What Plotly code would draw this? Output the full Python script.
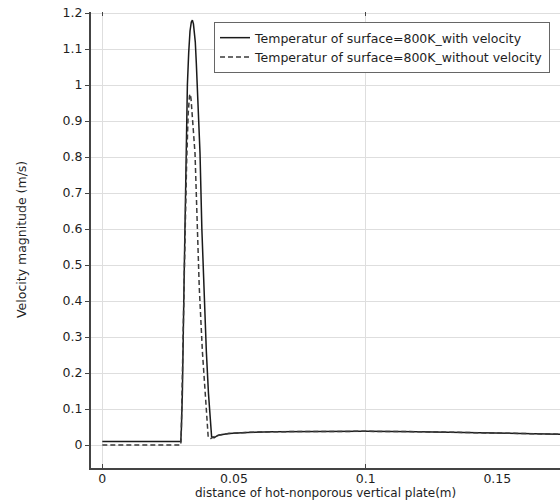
import plotly.graph_objects as go

# Data
x_with = [0.0, 0.0298, 0.0300, 0.0304, 0.0311, 0.0318, 0.0323, 0.0328, 0.0333, 0.0338, 0.0342,
          0.0346, 0.0350, 0.0353, 0.0357, 0.0360, 0.0371, 0.0378, 0.0385, 0.0395, 0.0403, 0.0409,
          0.0415, 0.0420, 0.0425, 0.0435, 0.0445, 0.048, 0.055, 0.065, 0.08, 0.10, 0.12, 0.14,
          0.16, 0.174]
y_with = [0.01, 0.01, 0.04, 0.144, 0.48, 0.81, 1.0, 1.09, 1.15, 1.175, 1.18,
          1.17, 1.145, 1.12, 1.06, 1.0, 0.81, 0.6, 0.44, 0.26, 0.144, 0.07,
          0.023, 0.021, 0.02, 0.025, 0.028, 0.032, 0.035, 0.037, 0.038, 0.038, 0.037, 0.035,
          0.033, 0.030]

x_without = [0.0, 0.0298, 0.0300, 0.0305, 0.0312, 0.0320, 0.0326, 0.0331, 0.0334, 0.0337, 0.0340,
             0.0346, 0.0352, 0.0360, 0.0368, 0.0380, 0.0390, 0.0397, 0.0402, 0.0407, 0.0412,
             0.0420, 0.0430, 0.0445, 0.048, 0.055, 0.065, 0.08, 0.10, 0.12, 0.14, 0.16, 0.174]
y_without = [0.0, 0.0, 0.04, 0.2, 0.5, 0.78, 0.92, 0.97, 0.975, 0.96, 0.92,
             0.87, 0.81, 0.62, 0.44, 0.26, 0.144, 0.07, 0.023, 0.018, 0.018,
             0.022, 0.025, 0.028, 0.032, 0.035, 0.037, 0.038, 0.038, 0.037, 0.035, 0.033, 0.030]

name_with = "Temperatur of surface=800K_with velocity"
name_without = "Temperatur of surface=800K_without velocity"
x_title = "distance of hot-nonporous vertical plate(m)"
y_title = "Velocity magnitude (m/s)"

x_tickvals = [0, 0.05, 0.1, 0.15]
x_ticktext = ["0", "0.05", "0.1", "0.15"]
y_tickvals = [0, 0.1, 0.2, 0.3, 0.4, 0.5, 0.6, 0.7, 0.8, 0.9, 1.0, 1.1, 1.2]
y_ticktext = ["0", "0.1", "0.2", "0.3", "0.4", "0.5", "0.6", "0.7", "0.8", "0.9", "1", "1.1", "1.2"]

FONT = "DejaVu Sans"
FS = 12.5
TXT = "#1e1e1e"

fig = go.Figure()
fig.add_trace(go.Scatter(x=x_with, y=y_with, mode="lines", name=name_with,
                         line=dict(color="#1a1a1a", width=1.5)))
fig.add_trace(go.Scatter(x=x_without, y=y_without, mode="lines", name=name_without,
                         line=dict(color="#3a3a3a", width=1.5, dash="5px,3px")))
# invisible trace so the top (tick-only) axis renders
fig.add_trace(go.Scatter(x=[0], y=[0], xaxis="x2", mode="markers",
                         marker=dict(opacity=0), showlegend=False, hoverinfo="skip"))

fig.update_layout(
    width=560, height=500,
    margin=dict(l=91, r=0, t=12, b=32),
    plot_bgcolor="white", paper_bgcolor="white",
    font=dict(family=FONT, size=FS, color=TXT),
    showlegend=True,
    legend=dict(x=0.9787, y=0.978, xanchor="right", yanchor="top",
                bgcolor="white", bordercolor="#666", borderwidth=1,
                font=dict(family=FONT, size=FS, color=TXT),
                tracegroupgap=0),
    xaxis=dict(range=[-0.0043, 0.1738], tickvals=x_tickvals, ticktext=x_ticktext,
               showgrid=False, zeroline=False, showline=True, linecolor="#444",
               linewidth=2, ticks="", ticklabelstandoff=-2,
               tickfont=dict(size=FS, color=TXT)),
    xaxis2=dict(range=[-0.0043, 0.1738], overlaying="x", side="top", matches="x",
                dtick=0.1, tick0=0, showticklabels=False, showgrid=True,
                gridcolor="#dedede", gridwidth=1, zeroline=False, showline=False,
                ticks="inside", ticklen=4, tickcolor="#444", mirror="ticks"),
    yaxis=dict(range=[-0.0639, 1.2028], tickvals=y_tickvals, ticktext=y_ticktext,
               showgrid=True, gridcolor="#dedede", gridwidth=1, zeroline=False,
               showline=True, linecolor="#444", linewidth=2, ticks="outside",
               ticklen=4, tickcolor="#444", tickfont=dict(size=FS, color=TXT)),
    annotations=[
        dict(text=x_title, xref="paper", yref="paper", x=0.5, y=(468 - 492.5) / 456,
             xanchor="center", yanchor="middle", showarrow=False,
             font=dict(family=FONT, size=12, color=TXT)),
        dict(text=y_title, xref="paper", yref="paper", x=0, xshift=-70, y=0.5,
             xanchor="center", yanchor="middle", textangle=-90, showarrow=False,
             font=dict(family=FONT, size=FS, color=TXT)),
    ],
)

fig.write_html("out.html", config={"displayModeBar": False},
               post_script="document.body.style.margin='0';document.body.style.overflow='hidden';")
